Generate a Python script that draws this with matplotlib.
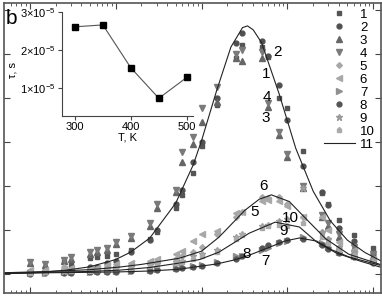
import numpy as np
import matplotlib
matplotlib.use('Agg')
import matplotlib.pyplot as plt
from matplotlib.ticker import FuncFormatter

plt.rcParams['font.family'] = ['Liberation Sans', 'DejaVu Sans']
plt.rcParams['mathtext.fontset'] = 'custom'
plt.rcParams['mathtext.rm'] = 'Liberation Sans'
plt.rcParams['mathtext.it'] = 'Liberation Sans'

# measured frequencies, Hz
freq = [10, 15, 25, 30, 50, 60, 80, 100, 150, 250, 300, 500, 600, 800, 1000,
        1500, 2500, 3000, 5000, 6000, 8000, 10000, 15000, 25000, 30000,
        40000, 60000, 100000]

s1 = [0.05, 0.06, 0.28, 0.20, 0.36, 0.38, 0.40, 0.45, 0.55, 0.80, 0.95, 1.50, 1.80, 2.30,
      2.90, 3.85, 4.90, 5.20, 5.16, 4.93, 4.00, 3.77, 2.80, 1.84, 1.60, 1.23, 0.89, 0.59]
s2 = [0.04, 0.05, 0.08, 0.10, 0.16, 0.17, 0.26, 0.30, 0.50, 0.77, 1.00, 1.60, 1.90, 2.55,
      3.00, 4.00, 5.25, 5.48, 5.30, 4.95, 4.30, 3.50, 2.45, 1.86, 1.57, 1.05, 0.75, 0.45]
s3 = [0.25, 0.20, 0.30, 0.35, 0.45, 0.50, 0.55, 0.68, 0.82, 1.10, 1.50, 1.86, 2.55, 2.95,
      3.45, 3.90, 4.90, 4.85, 4.90, 3.80, 3.16, 2.66, 1.95, 1.30, 1.10, 0.85, 0.60, 0.42]
s4 = [0.28, 0.22, 0.33, 0.38, 0.50, 0.55, 0.60, 0.72, 0.86, 1.15, 1.60, 1.92, 2.77, 3.11,
      3.77, 4.25, 5.00, 5.10, 5.05, 3.88, 3.22, 2.72, 2.00, 1.35, 1.15, 0.90, 0.62, 0.45]
s5 = [0.08, 0.07, 0.15, 0.12, 0.10, 0.12, 0.15, 0.17, 0.20, 0.25, 0.28, 0.35, 0.40, 0.50,
      0.62, 0.90, 1.30, 1.40, 1.75, 1.72, 1.75, 1.60, 1.30, 0.95, 0.80, 0.60, 0.45, 0.30]
s6 = [0.10, 0.09, 0.12, 0.14, 0.12, 0.14, 0.20, 0.22, 0.25, 0.30, 0.35, 0.45, 0.52, 0.75,
      0.90, 0.97, 1.38, 1.42, 1.65, 1.68, 1.65, 1.55, 1.30, 1.30, 1.00, 0.73, 0.55, 0.35]
s7 = [0.02, 0.03, 0.04, 0.05, 0.05, 0.06, 0.07, 0.07, 0.08, 0.10, 0.11, 0.14, 0.15, 0.18,
      0.20, 0.28, 0.40, 0.42, 0.55, 0.60, 0.70, 0.75, 0.85, 0.70, 0.62, 0.50, 0.40, 0.30]
s8 = [0.01, 0.02, 0.03, 0.03, 0.04, 0.04, 0.05, 0.05, 0.06, 0.08, 0.09, 0.12, 0.13, 0.16,
      0.18, 0.25, 0.35, 0.40, 0.60, 0.65, 0.72, 0.78, 0.80, 0.65, 0.58, 0.48, 0.38, 0.25]
s9 = [0.04, 0.05, 0.08, 0.10, 0.10, 0.12, 0.12, 0.15, 0.15, 0.20, 0.22, 0.28, 0.30, 0.40,
      0.45, 0.55, 0.85, 0.90, 1.10, 1.12, 1.20, 1.25, 1.95, 0.95, 0.80, 0.62, 0.50, 0.35]
s10 = [0.03, 0.04, 0.06, 0.07, 0.08, 0.09, 0.10, 0.12, 0.14, 0.18, 0.20, 0.25, 0.28, 0.35,
       0.40, 0.50, 0.80, 0.88, 1.05, 1.10, 1.12, 1.10, 1.15, 0.85, 0.70, 0.55, 0.42, 0.28]

series = [s1, s2, s3, s4, s5, s6, s7, s8, s9, s10]
markers = ['s', 'o', '^', 'v', 'D', '<', '>', 'o', '*', 'p']
colors = ['#555555', '#505050', '#666666', '#7a7a7a', '#a8a8a8', '#a8a8a8',
          '#909090', '#555555', '#9a9a9a', '#aaaaaa']
msizes = [3.5, 3.5, 3.7, 3.7, 2.9, 3.7, 3.7, 3.5, 4.5, 3.7]

# fit lines (11)
fitA_f = [5, 10, 15, 25, 50, 100, 150, 250, 500, 800, 1000, 1500, 2200, 3000, 3430,
          4000, 5000, 8000, 12500, 20000, 31600, 50000, 80000, 123000]
fitA_y = [0.017, 0.033, 0.05, 0.083, 0.165, 0.33, 0.5, 0.82, 1.61, 2.48, 3.03, 4.17,
          5.16, 5.6, 5.64, 5.55, 5.26, 4.1, 2.86, 1.88, 1.21, 0.77, 0.49, 0.3]

fitB_f = [5, 17, 50, 112, 200, 550, 1000, 1600, 3200, 4700, 6500, 10500, 16600, 28000,
          52000, 120000]
fitB_y = [0.03, 0.06, 0.10, 0.16, 0.22, 0.36, 0.52, 0.84, 1.45, 1.7, 1.8, 1.65, 1.25,
          0.80, 0.45, 0.22]

fitC_f = [5, 17, 50, 112, 250, 550, 950, 1600, 3600, 7200, 13800, 21900, 37000, 69000,
          120000]
fitC_y = [0.02, 0.04, 0.06, 0.09, 0.15, 0.25, 0.33, 0.50, 0.93, 1.18, 1.07, 0.73, 0.48,
          0.30, 0.16]

fitD_f = [5, 17, 50, 112, 250, 550, 1500, 2400, 3600, 6200, 9300, 13800, 21900, 33000,
          52000, 120000]
fitD_y = [0.01, 0.03, 0.04, 0.05, 0.07, 0.11, 0.23, 0.32, 0.43, 0.61, 0.75, 0.82, 0.75,
          0.55, 0.39, 0.20]

# inset: relaxation time vs temperature
T = [300, 350, 400, 450, 500]
tau = [2.61e-5, 2.66e-5, 1.53e-5, 0.73e-5, 1.28e-5]

W, H = 382, 297
fig = plt.figure(figsize=(W / 100, H / 100), dpi=100)
ax = fig.add_axes([4 / W, 1 - 293 / H, 377 / W, 290 / H])

for i in range(len(series)):
    ax.plot(freq, series[i], ls='none', marker=markers[i], color=colors[i],
            mec=colors[i], ms=msizes[i], label=str(i + 1))

fit_lines = [(fitA_f, fitA_y), (fitB_f, fitB_y), (fitC_f, fitC_y), (fitD_f, fitD_y)]
for k, (fx, fy) in enumerate(fit_lines):
    ax.plot(fx, fy, color='#222222', lw=0.8, label='11' if k == 0 else None)

ax.set_xscale('log')
ax.set_xlim(10 ** 0.70, 10 ** 5.09)
ax.set_ylim(-0.43, 6.16)
ax.set_yticks(range(7))
ax.tick_params(which='both', direction='in', top=True, right=True,
               labelbottom=False, labelleft=False, color='#444444')
ax.tick_params(which='major', length=4.5, width=0.8)
ax.tick_params(which='minor', length=2.5, width=0.6)
for sp in ax.spines.values():
    sp.set_color('#555555')
    sp.set_linewidth(1.2)

leg = ax.legend(loc='upper right', frameon=False, fontsize=9.5, labelspacing=0.06,
                handlelength=2.3, handletextpad=0.4, borderaxespad=0.0,
                bbox_to_anchor=(376 / 377, 1.0), numpoints=1)

notes = [('2', 277, 52), ('1', 266, 74), ('4', 267, 97), ('3', 266, 118),
         ('6', 263, 186), ('5', 255, 212), ('10', 290, 218), ('9', 284, 231),
         ('8', 247, 254), ('7', 265, 261)]
for s, px, py in notes:
    fig.text(px / W, 1 - py / H, s, fontsize=11, ha='center', va='center')

fig.text(6 / W, 1 - 24 / H, 'b', fontsize=15, ha='left', va='baseline')

# inset
ins = fig.add_axes([62 / W, 1 - 116 / H, 131 / W, 104 / H])
ins.plot(T, tau, color='#555555', lw=0.8, marker='s', ms=4, mfc='black', mec='black')
ins.set_xlim(277, 511)
ins.set_ylim(0.263e-5, 3.0e-5)
ins.set_xticks([300, 400, 500])
ins.set_yticks([1e-5, 2e-5, 3e-5])
ins.yaxis.set_major_formatter(FuncFormatter(lambda v, p: r'$%d{\times}10^{-5}$' % round(v * 1e5)))
ins.tick_params(direction='out', length=3, width=0.8, labelsize=8, pad=1.5, color='#444444')
ins.spines['top'].set_visible(False)
ins.spines['right'].set_visible(False)
for sp in ['left', 'bottom']:
    ins.spines[sp].set_color('#444444')
    ins.spines[sp].set_linewidth(0.8)
ins.patch.set_alpha(0)
ins.set_xlabel('T, K', fontsize=8, labelpad=0)
ins.set_ylabel('τ, s', fontsize=8)
ins.yaxis.set_label_coords((17 - 62) / 131, (116 - 70) / 104)

fig.savefig('out.png', dpi=100)
